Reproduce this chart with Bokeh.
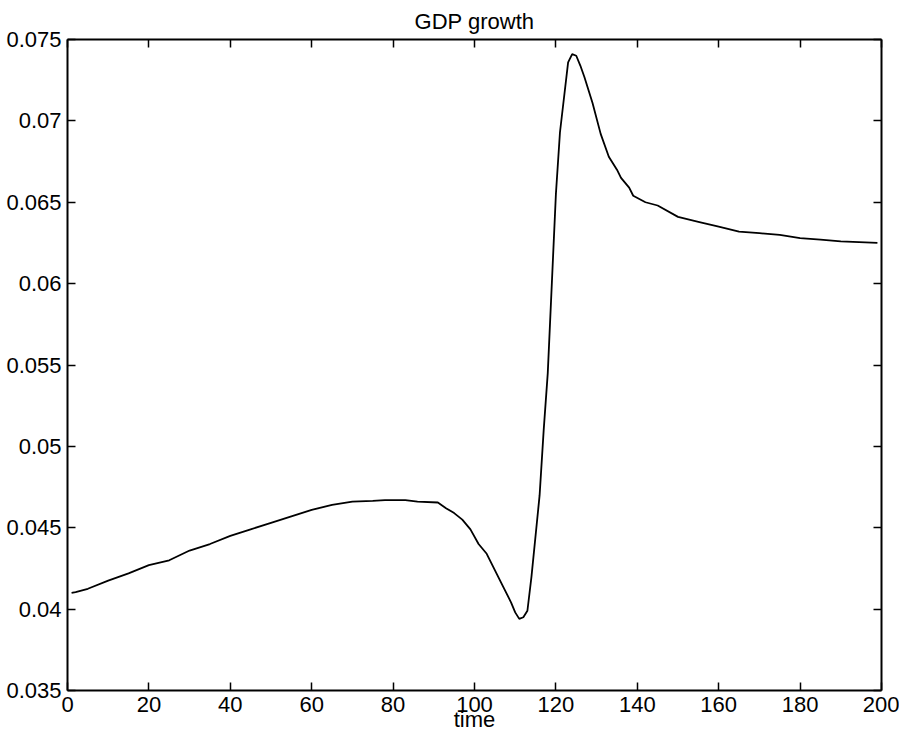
from bokeh.plotting import figure
from bokeh.models import Range1d, LinearAxis, FixedTicker, CustomJSTickFormatter
from bokeh.embed import file_html
from bokeh.resources import INLINE

# data
time = [1, 2, 5, 10, 15, 20, 25, 30, 35, 40, 45, 50, 55, 60, 65, 70, 75, 78, 83, 86,
        91, 93, 95, 97, 99, 101, 103, 105, 107, 109, 110, 111, 112, 113, 114, 116, 117,
        118, 120, 121, 123, 124, 125, 126, 127, 129, 131, 133, 135, 136, 138, 139, 142,
        145, 150, 155, 160, 165, 170, 175, 180, 185, 190, 199]
gdp_growth = [0.0410, 0.04105, 0.04125, 0.04175, 0.0422, 0.0427, 0.0430, 0.0436, 0.0440,
              0.0445, 0.0449, 0.0453, 0.0457, 0.0461, 0.0464, 0.0466, 0.04665, 0.0467,
              0.0467, 0.0466, 0.04655, 0.0462, 0.0459, 0.0455, 0.0449, 0.0440, 0.0434,
              0.0424, 0.0414, 0.0404, 0.0398, 0.0394, 0.0395, 0.0399, 0.0420, 0.0470,
              0.0510, 0.0545, 0.0655, 0.0693, 0.0736, 0.0741, 0.0740, 0.0734, 0.0727,
              0.0711, 0.0692, 0.0678, 0.0670, 0.0665, 0.0659, 0.0654, 0.0650, 0.0648,
              0.0641, 0.0638, 0.0635, 0.0632, 0.0631, 0.0630, 0.0628, 0.0627, 0.0626,
              0.0625]

x_ticks = [0, 20, 40, 60, 80, 100, 120, 140, 160, 180, 200]
y_ticks = [0.035, 0.04, 0.045, 0.05, 0.055, 0.06, 0.065, 0.07, 0.075]
y_tick_labels = ["0.035", "0.04", "0.045", "0.05", "0.055", "0.06", "0.065", "0.07", "0.075"]
title_text = "GDP growth"
x_label = "time"

FONT = "Liberation Sans"
FS = "22px"

p = figure(width=899, height=738, output_backend="svg", toolbar_location=None,
           x_range=Range1d(0, 200), y_range=Range1d(0.035, 0.075),
           x_axis_location=None, y_axis_location=None,
           min_border_left=67, min_border_right=18, min_border_top=38, min_border_bottom=48)
p.background_fill_color = "white"
p.border_fill_color = "white"
p.outline_line_color = None
p.xgrid.visible = False
p.ygrid.visible = False

p.title.text = title_text
p.title.align = "center"
p.title.text_font = FONT
p.title.text_font_size = FS
p.title.text_font_style = "normal"
p.title.text_color = "black"
p.title.standoff = 12

blank = CustomJSTickFormatter(code="return ''")

def style(ax):
    ax.axis_line_color = "black"
    ax.axis_line_width = 2
    ax.major_tick_in = 8
    ax.major_tick_out = 0
    ax.major_tick_line_width = 1.5
    ax.major_tick_line_color = "black"
    ax.minor_tick_line_color = None
    ax.major_label_text_font = FONT
    ax.major_label_text_font_size = FS
    ax.major_label_text_color = "black"

xb = LinearAxis(ticker=FixedTicker(ticks=x_ticks), axis_label=x_label)
style(xb)
xb.major_label_standoff = 6
xb.axis_label_text_font = FONT
xb.axis_label_text_font_size = FS
xb.axis_label_text_font_style = "normal"
xb.axis_label_text_color = "black"
xb.axis_label_standoff = -8
p.add_layout(xb, "below")

yl = LinearAxis(ticker=FixedTicker(ticks=y_ticks))
style(yl)
yl.major_label_standoff = 6
yl.major_label_overrides = {t: s for t, s in zip(y_ticks, y_tick_labels)}
p.add_layout(yl, "left")

xt = LinearAxis(ticker=FixedTicker(ticks=x_ticks), formatter=blank)
style(xt)
xt.major_label_standoff = 0
xt.major_label_text_font_size = "0px"
p.add_layout(xt, "above")

yr = LinearAxis(ticker=FixedTicker(ticks=y_ticks), formatter=blank)
style(yr)
yr.major_label_standoff = 0
yr.major_label_text_font_size = "0px"
p.add_layout(yr, "right")

p.line(time, gdp_growth, line_color="black", line_width=1.8)

open("out.html", "w").write(file_html(p, INLINE))
